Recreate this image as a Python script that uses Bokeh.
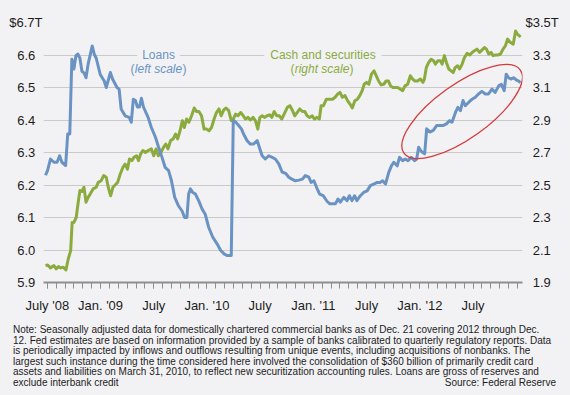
import html as _html
import pandas as pd
from bokeh.plotting import figure
from bokeh.layouts import column
from bokeh.models import Range1d, LinearAxis, FixedTicker, Label, Div
from bokeh.embed import file_html
from bokeh.resources import INLINE

# ---------------- data ----------------
loan_dates = [
    "2008-06-25", "2008-07-02", "2008-07-12", "2008-07-24", "2008-08-04", "2008-08-13", "2008-08-21",
    "2008-09-03", "2008-09-10", "2008-09-17", "2008-09-24", "2008-10-01", "2008-10-08", "2008-10-15",
    "2008-10-22", "2008-10-29", "2008-11-05", "2008-11-12", "2008-11-19", "2008-12-03", "2008-12-10",
    "2008-12-17", "2008-12-31", "2009-01-14", "2009-01-21", "2009-02-04", "2009-02-11", "2009-02-25",
    "2009-03-04", "2009-03-11", "2009-03-25", "2009-04-08", "2009-04-15", "2009-04-22", "2009-04-29",
    "2009-05-06", "2009-05-13", "2009-05-20", "2009-05-27", "2009-06-12", "2009-06-23", "2009-07-07",
    "2009-07-18", "2009-07-30", "2009-08-10", "2009-08-22", "2009-09-01", "2009-09-12", "2009-09-24",
    "2009-10-07", "2009-10-16", "2009-10-24", "2009-10-30", "2009-11-05", "2009-11-12", "2009-11-22",
    "2009-12-03", "2009-12-15", "2009-12-26", "2010-01-07", "2010-01-21", "2010-02-05", "2010-02-16",
    "2010-02-27", "2010-03-09", "2010-03-24", "2010-03-31", "2010-04-07", "2010-04-21", "2010-04-28",
    "2010-05-05", "2010-05-17", "2010-05-28", "2010-06-09", "2010-06-21", "2010-06-30", "2010-07-08",
    "2010-07-19", "2010-07-31", "2010-08-12", "2010-08-23", "2010-09-04", "2010-09-15", "2010-09-27",
    "2010-10-08", "2010-10-19", "2010-10-31", "2010-11-12", "2010-11-24", "2010-12-04", "2010-12-16",
    "2010-12-24", "2011-01-03", "2011-01-12", "2011-01-23", "2011-02-04", "2011-02-16", "2011-02-25",
    "2011-03-05", "2011-03-16", "2011-03-25", "2011-04-02", "2011-04-14", "2011-04-25", "2011-05-03",
    "2011-05-12", "2011-05-21", "2011-05-29", "2011-06-10", "2011-06-21", "2011-07-03", "2011-07-14",
    "2011-07-26", "2011-08-07", "2011-08-18", "2011-08-26", "2011-09-05", "2011-09-16", "2011-09-25",
    "2011-10-03", "2011-10-15", "2011-10-23", "2011-11-03", "2011-11-12", "2011-11-21", "2011-12-02",
    "2011-12-14", "2011-12-21", "2011-12-28", "2012-01-04", "2012-01-11", "2012-01-18", "2012-01-25",
    "2012-02-06", "2012-02-16", "2012-02-27", "2012-03-08", "2012-03-20", "2012-04-01", "2012-04-12",
    "2012-04-20", "2012-05-02", "2012-05-10", "2012-05-19", "2012-05-28", "2012-06-05", "2012-06-16",
    "2012-06-28", "2012-07-09", "2012-07-20", "2012-08-01", "2012-08-13", "2012-08-24", "2012-09-05",
    "2012-09-16", "2012-09-28", "2012-10-07", "2012-10-17", "2012-10-24", "2012-11-01", "2012-11-09",
    "2012-11-18", "2012-11-28", "2012-12-05", "2012-12-12",
]
loan_values = [  # $ trillions, left scale
    6.23, 6.245, 6.28, 6.27, 6.27, 6.29, 6.27,
    6.26, 6.357, 6.357, 6.587, 6.557, 6.598, 6.603,
    6.59, 6.55, 6.545, 6.53, 6.572, 6.628, 6.603,
    6.59, 6.54, 6.52, 6.50, 6.546, 6.526, 6.50,
    6.495, 6.434, 6.413, 6.408, 6.393, 6.464, 6.46,
    6.44, 6.44, 6.467, 6.44, 6.408, 6.377, 6.347,
    6.316, 6.285, 6.254, 6.244, 6.213, 6.162, 6.137,
    6.12, 6.10, 6.10, 6.172, 6.188, 6.178, 6.172,
    6.152, 6.126, 6.11, 6.07, 6.04, 6.019, 5.999,
    5.988, 5.983, 5.983, 6.398, 6.395, 6.38, 6.372,
    6.357, 6.337, 6.326, 6.326, 6.337, 6.311, 6.29,
    6.28, 6.29, 6.285, 6.28, 6.265, 6.24, 6.236,
    6.224, 6.218, 6.213, 6.215, 6.218, 6.229, 6.224,
    6.208, 6.213, 6.193, 6.172, 6.167, 6.15, 6.142,
    6.142, 6.142, 6.157, 6.147, 6.162, 6.152, 6.167,
    6.152, 6.167, 6.152, 6.167, 6.177, 6.182, 6.198,
    6.203, 6.208, 6.208, 6.213, 6.203, 6.239, 6.259,
    6.27, 6.259, 6.285, 6.275, 6.28, 6.275, 6.285,
    6.275, 6.28, 6.316, 6.306, 6.30, 6.296, 6.373,
    6.363, 6.368, 6.383, 6.383, 6.383, 6.388, 6.398,
    6.393, 6.424, 6.439, 6.429, 6.46, 6.444, 6.454,
    6.464, 6.47, 6.48, 6.488, 6.48, 6.48, 6.495,
    6.485, 6.505, 6.51, 6.49, 6.541, 6.53, 6.526,
    6.53, 6.523, 6.52, 6.515,
]

cash_dates = [
    "2008-06-25", "2008-07-02", "2008-07-12", "2008-07-24", "2008-08-01", "2008-08-09", "2008-08-17",
    "2008-08-26", "2008-09-04", "2008-09-12", "2008-09-20", "2008-09-25", "2008-10-01", "2008-10-09",
    "2008-10-16", "2008-10-22", "2008-10-29", "2008-11-05", "2008-11-12", "2008-11-19", "2008-11-26",
    "2008-12-06", "2008-12-17", "2008-12-24", "2009-01-03", "2009-01-12", "2009-01-21", "2009-01-28",
    "2009-02-05", "2009-02-12", "2009-02-20", "2009-02-27", "2009-03-08", "2009-03-17", "2009-03-25",
    "2009-04-02", "2009-04-09", "2009-04-17", "2009-04-24", "2009-05-03", "2009-05-10", "2009-05-17",
    "2009-05-25", "2009-06-03", "2009-06-12", "2009-06-23", "2009-07-01", "2009-07-09", "2009-07-17",
    "2009-07-26", "2009-08-04", "2009-08-12", "2009-08-20", "2009-08-29", "2009-09-07", "2009-09-15",
    "2009-09-22", "2009-09-30", "2009-10-08", "2009-10-15", "2009-10-23", "2009-10-31", "2009-11-09",
    "2009-11-18", "2009-11-26", "2009-12-04", "2009-12-13", "2009-12-22", "2009-12-31", "2010-01-08",
    "2010-01-17", "2010-01-26", "2010-02-03", "2010-02-11", "2010-02-18", "2010-02-26", "2010-03-06",
    "2010-03-15", "2010-03-24", "2010-03-31", "2010-04-08", "2010-04-16", "2010-04-25", "2010-05-04",
    "2010-05-12", "2010-05-20", "2010-05-29", "2010-06-07", "2010-06-15", "2010-06-23", "2010-06-30",
    "2010-07-08", "2010-07-16", "2010-07-25", "2010-08-03", "2010-08-11", "2010-08-19", "2010-08-28",
    "2010-09-06", "2010-09-14", "2010-09-22", "2010-10-03", "2010-10-12", "2010-10-21", "2010-10-29",
    "2010-11-06", "2010-11-15", "2010-11-24", "2010-12-02", "2010-12-10", "2010-12-19", "2010-12-28",
    "2011-01-05", "2011-01-13", "2011-01-22", "2011-01-28", "2011-02-05", "2011-02-14", "2011-02-23",
    "2011-03-06", "2011-03-15", "2011-03-24", "2011-04-01", "2011-04-09", "2011-04-18", "2011-04-27",
    "2011-05-05", "2011-05-13", "2011-05-22", "2011-05-31", "2011-06-08", "2011-06-16", "2011-06-23",
    "2011-07-01", "2011-07-09", "2011-07-18", "2011-07-27", "2011-08-04", "2011-08-12", "2011-08-21",
    "2011-08-30", "2011-09-07", "2011-09-15", "2011-09-22", "2011-09-30", "2011-10-08", "2011-10-17",
    "2011-10-26", "2011-11-03", "2011-11-11", "2011-11-20", "2011-11-29", "2011-12-07", "2011-12-15",
    "2011-12-24", "2012-01-03", "2012-01-12", "2012-01-17", "2012-01-24", "2012-02-01", "2012-02-09",
    "2012-02-17", "2012-02-23", "2012-03-02", "2012-03-11", "2012-03-17", "2012-03-25", "2012-04-01",
    "2012-04-09", "2012-04-17", "2012-04-24", "2012-05-01", "2012-05-09", "2012-05-16", "2012-05-25",
    "2012-06-02", "2012-06-11", "2012-06-20", "2012-06-28", "2012-07-06", "2012-07-15", "2012-07-24",
    "2012-08-01", "2012-08-10", "2012-08-17", "2012-08-25", "2012-09-02", "2012-09-09", "2012-09-17",
    "2012-09-25", "2012-10-04", "2012-10-13", "2012-10-21", "2012-10-29", "2012-11-07", "2012-11-17",
    "2012-11-25", "2012-12-01", "2012-12-08", "2012-12-12",
]
cash_values = [  # $ trillions, right scale
    2.004, 2.008, 1.99, 2.004, 1.984, 1.998, 1.99,
    1.994, 1.978, 2.046, 2.096, 2.27, 2.27, 2.30,
    2.394, 2.466, 2.46, 2.486, 2.394, 2.424, 2.444,
    2.476, 2.486, 2.516, 2.526, 2.558, 2.548, 2.486,
    2.434, 2.486, 2.502, 2.516, 2.568, 2.608, 2.628,
    2.598, 2.66, 2.65, 2.67, 2.68, 2.65, 2.69,
    2.712, 2.70, 2.712, 2.722, 2.68, 2.722, 2.68,
    2.70, 2.732, 2.752, 2.722, 2.774, 2.784, 2.814,
    2.784, 2.834, 2.896, 2.854, 2.906, 2.886, 2.926,
    2.974, 2.952, 2.952, 2.926, 2.844, 2.844, 2.834,
    2.854, 2.906, 2.946, 2.968, 2.926, 2.962, 2.974,
    2.958, 2.896, 2.906, 2.936, 2.926, 2.946, 2.926,
    2.906, 2.916, 2.90, 2.916, 2.896, 2.844, 2.916,
    2.926, 2.916, 2.926, 2.932, 2.916, 2.952, 2.926,
    2.926, 2.906, 2.936, 2.978, 2.988, 2.958, 2.926,
    2.946, 2.968, 2.952, 2.952, 2.926, 2.916, 2.926,
    2.906, 2.916, 2.906, 2.988, 2.988, 3.028, 3.028,
    3.028, 3.04, 3.06, 3.07, 3.04, 3.05, 3.018,
    2.998, 2.974, 3.018, 3.028, 3.05, 3.08, 3.12,
    3.132, 3.12, 3.182, 3.202, 3.172, 3.14, 3.116,
    3.12, 3.14, 3.14, 3.11, 3.10, 3.10, 3.10,
    3.09, 3.08, 3.11, 3.12, 3.172, 3.152, 3.14,
    3.14, 3.152, 3.132, 3.152, 3.224, 3.254, 3.274,
    3.264, 3.244, 3.264, 3.264, 3.244, 3.296, 3.254,
    3.214, 3.202, 3.192, 3.224, 3.234, 3.214, 3.244,
    3.284, 3.31, 3.30, 3.316, 3.326, 3.336, 3.316,
    3.33, 3.346, 3.336, 3.306, 3.316, 3.296, 3.30,
    3.30, 3.306, 3.336, 3.356, 3.398, 3.378, 3.366,
    3.448, 3.428, 3.418, 3.41,
]

left_ticks = [5.9, 6.0, 6.1, 6.2, 6.3, 6.4, 6.5, 6.6, 6.7]
left_labels = ["5.9", "6.0", "6.1", "6.2", "6.3", "6.4", "6.5", "6.6", "$6.7T"]
right_ticks = [1.9, 2.1, 2.3, 2.5, 2.7, 2.9, 3.1, 3.3, 3.5]
right_labels = ["1.9", "2.1", "2.3", "2.5", "2.7", "2.9", "3.1", "3.3", "$3.5T"]
x_label_dates = ["2008-07-01", "2009-01-01", "2009-07-01", "2010-01-01", "2010-07-01",
                 "2011-01-01", "2011-07-01", "2012-01-01", "2012-07-01"]
x_labels = ["July '08", "Jan. '09", "July", "Jan. '10", "July", "Jan. '11", "July", "Jan. '12", "July"]
year_start_dates = ["2009-01-01", "2010-01-01", "2011-01-01", "2012-01-01"]

note_lines = [
    "Note: Seasonally adjusted data for domestically chartered commercial banks as of Dec. 21 covering 2012 through Dec.",
    "12. Fed estimates are based on information provided by a sample of banks calibrated to quarterly regulatory reports. Data",
    "is periodically impacted by inflows and outflows resulting from unique events, including acquisitions of nonbanks. The",
    "largest such instance during the time considered here involved the consolidation of $360 billion of primarily credit card",
    "assets and liabilities on March 31, 2010, to reflect new securitization accounting rules. Loans are gross of reserves and",
    "exclude interbank credit",
]
source_text = "Source: Federal Reserve"

# ---------------- style ----------------
BG = "#f2f2f4"
BLUE = "#6a93c3"
GREEN = "#8bab3f"
RED = "#d63a3c"
GRID = "#cacaca"
AXIS = "#8e8e8e"
INK = "#1c1c1c"
FONT = "'Liberation Sans', Arial, sans-serif"
FSP = "\u2007"
TICK_SIZE = "13px"
LEG = "12px"


def month_pos(d):
    ts = pd.Timestamp(d)
    return (ts.year - 2009) * 12 + (ts.month - 1) + (ts.day - 1) / ts.days_in_month


loan_x = [month_pos(d) for d in loan_dates]
cash_x = [month_pos(d) for d in cash_dates]
month_ticks = [month_pos(d) for d in pd.date_range("2008-07-01", "2012-12-01", freq="MS")]
label_ticks = [month_pos(d) for d in x_label_dates]
year_ticks = [month_pos(d) for d in year_start_dates]

CHART_H = 322
p = figure(width=570, height=CHART_H, output_backend="svg", toolbar_location=None,
           x_range=Range1d(-6.43, 47.58), y_range=Range1d(5.9, 6.7),
           min_border_left=43, min_border_right=48, min_border_top=22, min_border_bottom=40,
           background_fill_color=BG, border_fill_color=BG, outline_line_color=None)
p.extra_y_ranges = {"right": Range1d(1.9, 3.5)}

# grid
p.xgrid.visible = False
p.ygrid[0].ticker = FixedTicker(ticks=left_ticks)
p.ygrid[0].grid_line_color = GRID
p.ygrid[0].grid_line_width = 1

# bottom axis: monthly ticks + labels
xb = p.xaxis[0]
xb.ticker = FixedTicker(ticks=label_ticks, minor_ticks=month_ticks)
xb.major_label_overrides = {t: lab for t, lab in zip(label_ticks, x_labels)}
xb.axis_line_color = AXIS
xb.axis_line_width = 2
xb.major_tick_out = 6
xb.major_tick_in = 0
xb.minor_tick_out = 6
xb.minor_tick_in = 0
xb.major_tick_line_color = AXIS
xb.minor_tick_line_color = AXIS
xb.major_label_standoff = 9
xb.major_label_text_font = FONT
xb.major_label_text_font_size = TICK_SIZE
xb.major_label_text_color = INK

# long ticks at each January, drawn on the same baseline
xa = LinearAxis(ticker=FixedTicker(ticks=year_ticks, minor_ticks=[]), fixed_location=5.9,
                axis_line_color=None, major_tick_out=0, major_tick_in=-12,
                major_tick_line_color=AXIS, major_tick_line_width=1,
                major_label_overrides={t: "" for t in year_ticks},
                major_label_standoff=0, major_label_text_font_size="1px")
p.add_layout(xa, "below")

# left axis
yl = p.yaxis[0]
yl.ticker = FixedTicker(ticks=left_ticks)
yl.major_label_overrides = {t: (lab if lab.startswith("$") else lab + FSP) for t, lab in zip(left_ticks, left_labels)}
yl.axis_line_color = None
yl.major_tick_line_color = None
yl.minor_tick_line_color = None
yl.major_tick_out = 0
yl.major_tick_in = 0
yl.major_label_standoff = 1
yl.major_label_text_font = FONT
yl.major_label_text_font_size = TICK_SIZE
yl.major_label_text_color = INK

# right axis
yr = LinearAxis(y_range_name="right", ticker=FixedTicker(ticks=right_ticks),
                major_label_overrides={t: (lab if lab.startswith("$") else FSP + lab) for t, lab in zip(right_ticks, right_labels)},
                axis_line_color=None, major_tick_line_color=None, minor_tick_line_color=None,
                major_tick_out=0, major_tick_in=0, major_label_standoff=3,
                major_label_text_font=FONT, major_label_text_font_size=TICK_SIZE,
                major_label_text_color=INK)
p.add_layout(yr, "right")

# series
p.line(cash_x, cash_values, y_range_name="right", line_color=GREEN, line_width=3, line_join="round")
p.line(loan_x, loan_values, line_color=BLUE, line_width=3, line_join="round")

# highlight ellipse around the 2012 loans
highlight_date = "2012-05-25"
highlight_value = 6.426
p.ellipse(x=[month_pos(highlight_date)], y=[highlight_value], width=143, height=54,
          width_units="screen", height_units="screen", angle=0.62,
          fill_color=None, line_color=RED, line_width=1.3)


# series labels
def lab(x, y, text, color, align="center", style="normal", bg=None, pad=0):
    kw = dict(x=x, y=y, text=text, text_align=align, text_baseline="middle",
              text_font=FONT, text_font_size=LEG, text_font_style=style, text_color=color)
    if bg is not None:
        kw.update(background_fill_color=bg, padding=pad)
    p.add_layout(Label(**kw))


lab(6.54, 6.6, "Loans", BLUE, bg=BG, pad=5)
lab(3.83, 6.556, "(", BLUE, align="right")
lab(6.54, 6.556, "left scale", BLUE, style="italic")
lab(9.24, 6.556, ")", BLUE, align="left")

lab(25.08, 6.6, "Cash and securities", GREEN, bg=BG, pad=6)
lab(21.87, 6.556, "(", GREEN, align="right")
lab(24.97, 6.556, "right scale", GREEN, style="italic")
lab(28.07, 6.556, ")", GREEN, align="left")

# note block below the chart
NOTE_H = 395 - CHART_H
rows = []
for i, line in enumerate(note_lines):
    txt = _html.escape(line)
    if i == len(note_lines) - 1:
        txt += '<span style="float:right;">%s</span>' % _html.escape(source_text)
    rows.append('<div style="white-space:nowrap;height:10.5px;">%s</div>' % txt)
note_html = (
    '<div style="box-sizing:border-box;width:570px;height:%dpx;padding:3px 14px 0 13px;'
    'background:%s;font-family:%s;font-size:10px;line-height:10.5px;color:%s;">%s</div>'
    % (NOTE_H, BG, FONT.replace("'", ""), INK, "".join(rows))
)
note = Div(text=note_html, width=570, height=NOTE_H, margin=0)

layout = column(p, note, spacing=0)
html = file_html(layout, INLINE, title="Loans and cash")
html = html.replace("</head>", "<style>body{background:%s;}</style></head>" % BG, 1)
open("out.html", "w").write(html)
